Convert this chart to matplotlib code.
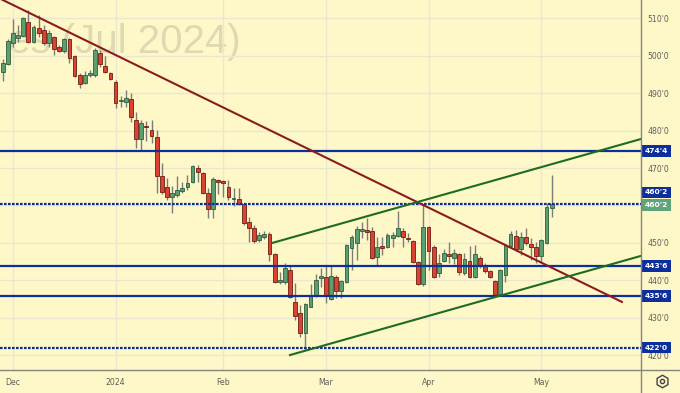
import numpy as np
import matplotlib
matplotlib.use("Agg")
import matplotlib.pyplot as plt
from matplotlib.patches import Rectangle
from matplotlib.lines import Line2D
from matplotlib.transforms import blended_transform_factory

# ---------------- data ----------------
# trading-day index (0 = 1 Dec 2023)
day_index = list(range(-2, 106))

opens = [495.7, 497.8, 503.4, 504.8, 505.3, 509.0, 503.7, 507.4, 506.9, 503.4,
         505.0, 502.4, 501.3, 504.5, 500.0, 494.9, 492.7, 494.9, 494.9, 500.8,
         497.3, 495.4, 493.0, 487.9, 487.6, 488.5, 482.8, 477.8, 481.2, 480.2,
         478.3, 467.9, 464.9, 462.3, 462.8, 463.9, 464.9, 466.3, 470.0, 468.7,
         463.3, 459.0, 466.8, 466.5, 464.9, 461.7, 461.7, 460.4, 455.6, 454.0,
         450.8, 451.6, 452.4, 447.0, 439.5, 439.5, 442.7, 434.2, 431.2, 425.9,
         432.8, 435.8, 440.6, 440.9, 435.0, 440.9, 437.1, 439.5, 448.6, 450.0,
         453.2, 453.4, 453.2, 446.2, 449.1, 448.9, 451.3, 451.8, 453.2, 451.3,
         450.5, 444.9, 439.0, 454.2, 448.9, 441.9, 445.1, 447.0, 445.9, 447.0,
         441.9, 445.1, 440.9, 445.9, 443.8, 442.5, 439.8, 436.3, 441.4, 449.1,
         451.8, 448.3, 451.6, 449.7, 448.9, 446.5, 450.0, 459.3]

highs = [499.1, 504.5, 509.8, 508.2, 510.3, 512.25, 508.2, 510.9, 508.2, 506.9,
         505.2, 502.9, 504.8, 504.8, 500.2, 495.4, 495.9, 496.2, 502.1, 501.6,
         500.0, 495.7, 493.5, 489.3, 490.9, 490.1, 485.0, 482.8, 482.6, 482.8,
         480.2, 471.3, 467.3, 465.2, 467.9, 466.3, 468.1, 470.8, 470.8, 468.9,
         464.7, 467.6, 467.1, 466.8, 466.8, 464.7, 464.7, 460.6, 456.9, 454.8,
         452.9, 453.2, 452.9, 447.3, 442.2, 444.6, 444.1, 439.3, 433.4, 433.9,
         439.0, 441.7, 443.3, 443.8, 444.1, 441.4, 440.1, 449.7, 452.1, 454.5,
         455.6, 456.6, 454.2, 451.6, 451.6, 452.6, 452.9, 458.5, 454.0, 452.6,
         450.8, 445.1, 460.4, 454.5, 449.4, 447.0, 448.3, 450.2, 448.3, 447.3,
         447.3, 449.1, 449.4, 446.5, 444.6, 442.7, 440.1, 443.0, 449.7, 453.2,
         453.4, 452.9, 454.0, 451.3, 450.2, 451.0, 460.6, 468.1]

lows = [493.3, 497.5, 502.4, 503.7, 505.0, 503.4, 503.4, 505.0, 502.9, 502.4,
        500.2, 501.0, 500.8, 498.1, 494.3, 491.4, 492.5, 494.3, 494.3, 497.0,
        495.4, 493.5, 486.0, 486.3, 486.3, 482.3, 475.3, 474.8, 477.2, 476.7,
        463.3, 463.1, 461.4, 458.0, 462.3, 463.3, 464.1, 466.0, 466.3, 463.1,
        456.6, 456.6, 463.1, 462.3, 461.4, 459.8, 460.1, 454.8, 450.2, 450.0,
        450.2, 451.0, 445.1, 439.3, 439.0, 439.0, 435.2, 429.4, 424.8, 421.3,
        432.8, 435.5, 438.2, 433.9, 434.7, 435.2, 435.2, 439.3, 442.7, 445.4,
        451.3, 450.8, 445.7, 444.1, 446.7, 448.6, 448.9, 451.6, 448.9, 450.2,
        444.6, 438.7, 438.5, 442.7, 440.6, 440.9, 444.9, 444.6, 444.3, 441.4,
        441.4, 440.6, 440.6, 443.3, 441.9, 440.6, 435.8, 435.8, 439.5, 448.9,
        448.1, 446.7, 449.4, 445.4, 444.6, 444.9, 449.7, 456.9]

closes = [498.1, 504.0, 506.1, 505.6, 510.1, 503.7, 507.7, 506.1, 503.4, 506.1,
          501.8, 501.3, 504.6, 499.4, 494.6, 492.5, 494.9, 495.4, 501.6, 497.8,
          495.7, 493.8, 487.4, 488.2, 488.7, 483.6, 477.8, 482.0, 481.0, 478.6,
          467.9, 463.6, 462.3, 463.3, 464.1, 464.7, 466.0, 470.5, 468.9, 463.3,
          459.0, 467.1, 466.3, 466.0, 462.3, 462.0, 460.4, 455.3, 454.0, 450.5,
          452.1, 452.4, 447.0, 439.5, 440.1, 443.3, 435.5, 430.4, 425.9, 433.6,
          435.8, 440.1, 441.1, 436.0, 441.1, 437.1, 439.8, 449.4, 451.6, 453.7,
          453.7, 452.9, 445.9, 448.9, 448.6, 452.1, 452.1, 454.0, 451.6, 451.0,
          444.9, 439.0, 454.2, 447.8, 440.9, 444.6, 447.3, 446.5, 447.3, 442.2,
          445.7, 440.9, 447.0, 444.1, 442.5, 440.9, 436.0, 442.7, 449.4, 452.4,
          448.3, 451.6, 450.0, 448.9, 446.5, 450.8, 459.6, 460.25]

month_tick_index = [0, 20, 41, 61, 81, 103]
month_labels = ["Dec", "2024", "Feb", "Mar", "Apr", "May"]

price_ticks = [420, 430, 440, 450, 460, 470, 480, 490, 500, 510]

# horizontal levels (price) and their labels
levels = [474.5, 460.25, 443.75, 435.75, 422.0]
level_labels = ["474'4", "460'2", "443'6", "435'6", "422'0"]
level_dotted = [False, True, False, False, True]
last_price = 460.25
last_label = "460'2"

# trend lines: (index, price) endpoints
red_line = ([-3.0, 118.7], [515.6, 434.2])
green_upper = ([50.5, 122.4], [449.95, 477.75])
green_lower = ([54.0, 122.4], [420.0, 446.5])

watermark = "es (Jul 2024)"

# ---------------- style ----------------
BG = "#fef8c9"
GRID = "#ebe6cf"
UP = "#5a9e72"
UP_EDGE = "#2f5e3e"
DN = "#dc4230"
DN_EDGE = "#6e1e12"
WICK = "#7c7c78"
BLUE = "#0d2f9c"
TXT = "#5e5e5a"

W, H = 680, 393
fig = plt.figure(figsize=(W / 100, H / 100), dpi=100)
fig.patch.set_facecolor(BG)
ax = fig.add_axes([0, 23 / H, 641 / W, 370 / H])
ax.set_facecolor(BG)
ax.set_xlim(-2.534, 122.42)
ax.set_ylim(416.0, 514.92)
for s in ax.spines.values():
    s.set_visible(False)

# grid
ax.set_xticks(month_tick_index)
ax.set_xticklabels(month_labels, fontsize=5.6, color=TXT)
ax.set_yticks(price_ticks)
ax.set_yticklabels(["" if v == 460 else f"{v}'0" for v in price_ticks],
                   fontsize=5.6, color=TXT)
ax.yaxis.tick_right()
ax.tick_params(axis="x", length=0, pad=6)
ax.tick_params(axis="y", length=0, pad=4.5)
ax.grid(True, color=GRID, lw=1.0, zorder=0)
ax.set_axisbelow(True)

# watermark
ax.text(8 / 641, 1 - 42 / 370, watermark, transform=ax.transAxes,
        fontsize=29, color="#dfd9b2", family="Liberation Sans",
        va="center", ha="left", zorder=0.5)

# candles
x = np.array(day_index, dtype=float)
o = np.array(opens); h = np.array(highs); l = np.array(lows); c = np.array(closes)
up = c >= o
ax.vlines(x, l, h, color=WICK, lw=1.0, zorder=2)
body_lo = np.minimum(o, c)
body_h = np.maximum(np.abs(c - o), 0.35)
ax.bar(x[up], body_h[up], bottom=body_lo[up], width=0.74, color=UP,
       edgecolor=UP_EDGE, linewidth=0.6, zorder=3)
ax.bar(x[~up], body_h[~up], bottom=body_lo[~up], width=0.74, color=DN,
       edgecolor=DN_EDGE, linewidth=0.6, zorder=3)

# horizontal levels
for lv, dotted in zip(levels, level_dotted):
    if dotted:
        ax.axhline(lv, color=BLUE, lw=1.6, ls=(0, (1.2, 0.6)), zorder=4)
    else:
        ax.axhline(lv, color=BLUE, lw=1.6, zorder=4)

# trend lines
ax.plot(*red_line, color="#8b1c1c", lw=1.5, zorder=5)
ax.plot(*green_upper, color="#1f6b1f", lw=1.5, zorder=5)
ax.plot(*green_lower, color="#1f6b1f", lw=1.5, zorder=5)

# right-side boxes
bt = blended_transform_factory(ax.transAxes, ax.transData)
px_per_unit = 370 / (514.92 - 416.0)
box_h = 11.5 / px_per_unit
box_w = 30 / 641
for lv, lab in zip(levels, level_labels):
    yc = lv
    if lab == last_label and abs(lv - last_price) < 0.01:
        yc = lv + 12 / px_per_unit
    ax.add_patch(Rectangle((1.0, yc - box_h / 2), box_w, box_h, transform=bt,
                           facecolor=BLUE, edgecolor="none", clip_on=False, zorder=6))
    ax.text(1.0 + box_w / 2, yc, lab, transform=bt, ha="center", va="center",
            fontsize=5.4, color="white", fontweight="bold", clip_on=False, zorder=7)
ax.add_patch(Rectangle((1.0, last_price - box_h / 2 - 0.3), box_w, box_h + 0.3,
                       transform=bt, facecolor="#5fa57a", edgecolor="none",
                       clip_on=False, zorder=6))
ax.text(1.0 + box_w / 2, last_price - 0.15, last_label, transform=bt, ha="center",
        va="center", fontsize=5.4, color="white", fontweight="bold",
        clip_on=False, zorder=7)

# frame lines
fig.add_artist(Line2D([641 / W, 641 / W], [0, 1], transform=fig.transFigure,
                      color="#85857c", lw=1.0))
fig.add_artist(Line2D([0, 1], [23 / H, 23 / H], transform=fig.transFigure,
                      color="#85857c", lw=1.0))

# settings icon
gx, gy = 662 / W, 1 - 381 / H
fig.add_artist(Line2D([gx], [gy], transform=fig.transFigure, marker="h", ms=9,
                      mfc="none", mec="#444444", mew=1.0))
fig.add_artist(Line2D([gx], [gy], transform=fig.transFigure, marker="o", ms=3,
                      mfc="none", mec="#444444", mew=1.0))

fig.savefig("out.png", dpi=100, facecolor=BG)
